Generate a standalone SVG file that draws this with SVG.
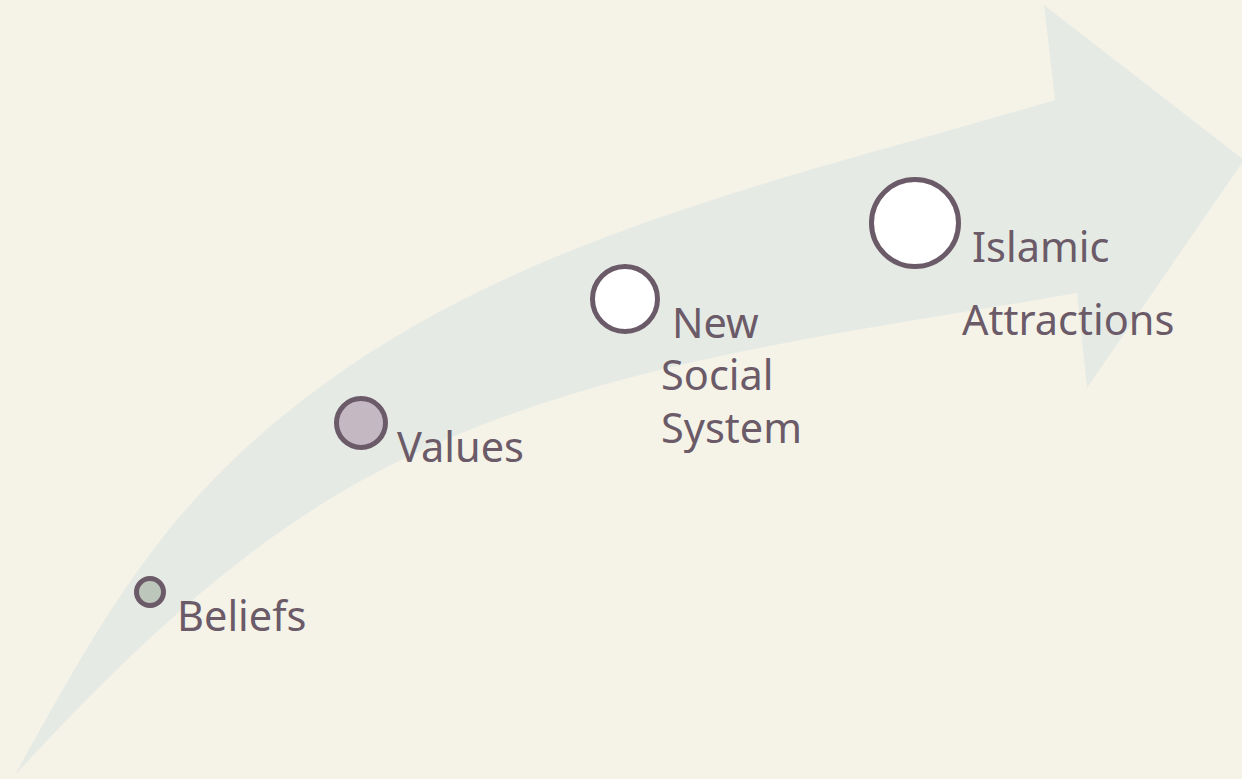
<svg xmlns="http://www.w3.org/2000/svg" width="1242" height="779" viewBox="0 0 1242 779">
<style>
.lbl{font-family:"Noto Sans","Open Sans","Liberation Sans",sans-serif;font-size:41.5px;fill:#6B5A67}
.dot{stroke:#6B5A67;stroke-width:5}
</style>
<rect width="1242" height="779" fill="#F5F3E8"/>
<g id="connectors">
<path fill="#E6EAE5" d="M15 775 C107 609 167 500 320 387 C531 231 803 175 1055 100 L1044 5 L1244 160 L1087 388 L1077 293 C844 334 599 360 387 467 C243 540 124 657 15 775 Z"/>
</g>
<g id="beliefs">
<circle class="dot" cx="150" cy="592" r="13.5" fill="#BCC6BA"/>
<text class="lbl" x="177" y="631">Beliefs</text>
</g>
<g id="values">
<circle class="dot" cx="361" cy="423" r="24.5" fill="#C4B8C2"/>
<text class="lbl" x="397" y="462">Values</text>
</g>
<g id="new-social-system">
<circle class="dot" cx="625" cy="299" r="32.5" fill="#FFFFFF"/>
<text class="lbl" x="672" y="338">New</text>
<text class="lbl" x="661" y="390">Social</text>
<text class="lbl" x="661" y="443">System</text>
</g>
<g id="islamic-attractions">
<circle class="dot" cx="915" cy="223" r="43.5" fill="#FFFFFF"/>
<text class="lbl" x="972" y="262">Islamic</text>
<text class="lbl" x="962" y="335">Attractions</text>
</g>
</svg>
